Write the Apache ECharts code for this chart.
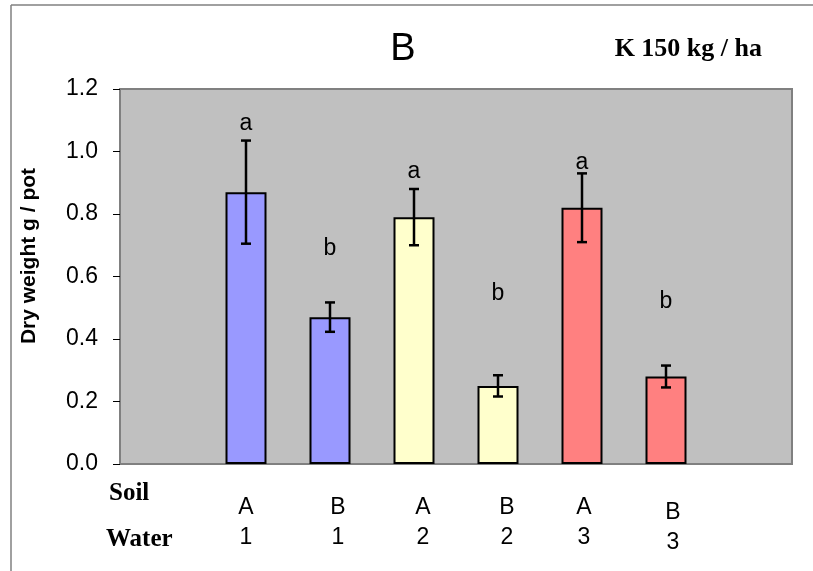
<!DOCTYPE html>
<html>
<head>
<meta charset="utf-8">
<script src="https://cdn.jsdelivr.net/npm/echarts@6/dist/echarts.min.js"></script>
<style>
  html, body { margin: 0; padding: 0; background: #fff; }
  #chart { width: 813px; height: 571px; }
</style>
</head>
<body>
<div id="chart"></div>
<script>
// data
const soil = ['A', 'B', 'A', 'B', 'A', 'B']
const water = ['1', '1', '2', '2', '3', '3']
const dryWeight = [0.87, 0.47, 0.79, 0.25, 0.82, 0.28]
const errBar = [0.165, 0.047, 0.09, 0.034, 0.11, 0.035]
const letters = ['a', 'b', 'a', 'b', 'a', 'b']
const letterAt = [1.09, 0.69, 0.935, 0.545, 0.963, 0.518] // height of the letter in y units

// colours by water level (old excel palette)
const waterColors = { 1: '#9999FF', 2: '#FFFFCC', 3: '#FF8080' }
// the category labels sit a bit off-centre in the original
const labelDx = [0, 8, 9, 9, 2, 7]
const labelDy = [0, 0, 0, 0, 0, 5]

const chart = echarts.init(document.getElementById('chart'))

// one empty slot on each side, like the original
const categories = [{ value: '' }]
soil.forEach((s, i) => {
  categories.push({
    value: s + '\n' + water[i],
    textStyle: { padding: [labelDy[i], 0, 0, labelDx[i] * 2] }
  })
})
categories.push({ value: '' })

const barData = [null]
dryWeight.forEach((v, i) => {
  barData.push({ value: v, itemStyle: { color: waterColors[water[i]] } })
})
barData.push(null)

const errData = dryWeight.map((v, i) => [i + 1, v - errBar[i], v + errBar[i]])
const letterData = letters.map((l, i) => [i + 1, letterAt[i], l])

chart.setOption({
  animation: false,
  title: [
    {
      text: 'B',
      left: 398,
      top: 26,
      textAlign: 'center',
      textStyle: { fontFamily: 'Liberation Sans', fontSize: 38, fontWeight: 'normal', color: '#000' }
    },
    {
      text: 'K 150 kg / ha',
      right: 46,
      top: 31,
      textStyle: { fontFamily: 'Liberation Serif', fontSize: 26, fontWeight: 'bold', color: '#000' }
    }
  ],
  grid: {
    left: 120,
    right: 21,
    top: 89,
    bottom: 107,
    show: true,
    backgroundColor: '#C0C0C0',
    borderColor: '#808080',
    borderWidth: 2
  },
  xAxis: {
    type: 'category',
    data: categories,
    axisLine: { lineStyle: { color: '#808080', width: 2 } },
    axisTick: { show: false },
    axisLabel: {
      interval: 0,
      margin: 29,
      color: '#000',
      fontFamily: 'Liberation Sans',
      fontSize: 23,
      lineHeight: 30
    }
  },
  yAxis: {
    type: 'value',
    min: 0,
    max: 1.2,
    interval: 0.2,
    splitLine: { show: false },
    axisLine: { show: true, lineStyle: { color: '#808080', width: 2 } },
    axisTick: { show: true, length: 7, lineStyle: { color: '#000', width: 1 } },
    axisLabel: {
      margin: 22,
      color: '#000',
      fontFamily: 'Liberation Sans',
      fontSize: 23,
      formatter: v => v.toFixed(1)
    }
  },
  graphic: [
    // chart frame, only top and left visible
    { type: 'line', shape: { x1: 11, y1: 5, x2: 813, y2: 5 }, style: { stroke: '#808080', lineWidth: 1.5 } },
    { type: 'line', shape: { x1: 11, y1: 5, x2: 11, y2: 571 }, style: { stroke: '#808080', lineWidth: 1.5 } },
    {
      type: 'text', left: 109, top: 481,
      style: { text: 'Soil', font: 'bold 25px "Liberation Serif"', fill: '#000' }
    },
    {
      type: 'text', left: 106, top: 527,
      style: { text: 'Water', font: 'bold 25px "Liberation Serif"', fill: '#000' }
    },
    {
      type: 'text', x: 29, y: 256, rotation: Math.PI / 2,
      style: {
        text: 'Dry weight g / pot', font: 'bold 21px "Liberation Sans"', fill: '#000',
        align: 'center', verticalAlign: 'middle'
      }
    }
  ],
  series: [
    {
      name: 'Dry weight',
      type: 'bar',
      barWidth: 41,
      data: barData,
      itemStyle: { borderColor: '#000', borderWidth: 2 }
    },
    {
      name: 'SE',
      type: 'custom',
      data: errData,
      renderItem: function(params, api) {
        const lo = api.coord([api.value(0), api.value(1)])
        const hi = api.coord([api.value(0), api.value(2)])
        const w = 5
        const st = { stroke: '#000', lineWidth: 2.5 }
        return {
          type: 'group',
          children: [
            { type: 'line', shape: { x1: hi[0], y1: hi[1], x2: lo[0], y2: lo[1] }, style: st },
            { type: 'line', shape: { x1: hi[0] - w, y1: hi[1], x2: hi[0] + w, y2: hi[1] }, style: st },
            { type: 'line', shape: { x1: lo[0] - w, y1: lo[1], x2: lo[0] + w, y2: lo[1] }, style: st }
          ]
        }
      },
      z: 5
    },
    {
      name: 'letters',
      type: 'custom',
      data: letterData,
      renderItem: function(params, api) {
        const p = api.coord([api.value(0), api.value(1)])
        return {
          type: 'text',
          x: p[0],
          y: p[1],
          style: {
            text: letterData[params.dataIndex][2],
            font: '23px "Liberation Sans"',
            fill: '#000',
            align: 'center',
            verticalAlign: 'middle'
          }
        }
      },
      z: 6
    }
  ]
})
</script>
</body>
</html>
